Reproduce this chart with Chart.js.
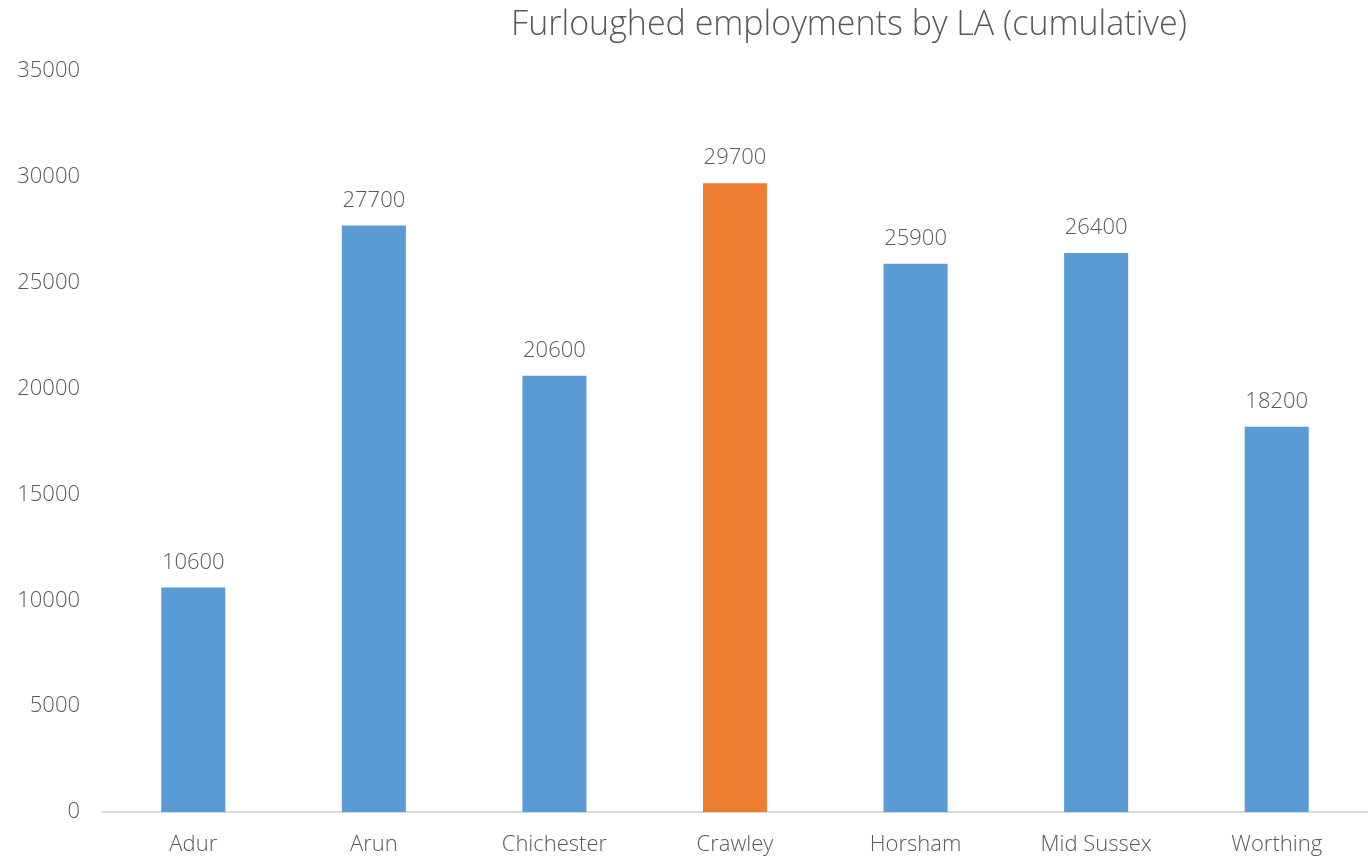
<!DOCTYPE html>
<html>
<head>
<meta charset="utf-8">
<script src="https://cdn.jsdelivr.net/npm/chart.js@4"></script>
<style>
html,body{margin:0;padding:0;background:#fff;}
#wrap{width:1368px;height:856px;position:relative;}
</style>
</head>
<body>
<div id="wrap"><canvas id="c" width="1368" height="856"></canvas></div>
<script>
const categories = ["Adur","Arun","Chichester","Crawley","Horsham","Mid Sussex","Worthing"];
const values = [10600, 27700, 20600, 29700, 25900, 26400, 18200];
const highlight = "Crawley";
const yTicks = [0,5000,10000,15000,20000,25000,30000,35000];
const titleText = "Furloughed employments by LA (cumulative)";

const FONT = "'Open Sans', 'DejaVu Sans', sans-serif";
const TEXT = "#595959";

const colors = categories.map(c => c === highlight ? "#ED7D31" : "#5B9BD5");

const titlePlugin = {
  id: 'customTitle',
  afterDraw(chart) {
    const ctx = chart.ctx;
    ctx.save();
    ctx.font = "300 34px " + FONT;
    ctx.fillStyle = TEXT;
    ctx.textAlign = 'center';
    ctx.textBaseline = 'middle';
    ctx.fillText(titleText, 849, 25);
    ctx.restore();
  }
};

const labelPlugin = {
  id: 'dataLabels',
  afterDatasetsDraw(chart) {
    const ctx = chart.ctx;
    const meta = chart.getDatasetMeta(0);
    ctx.save();
    ctx.font = "300 22px " + FONT;
    ctx.fillStyle = TEXT;
    ctx.textAlign = 'center';
    ctx.textBaseline = 'middle';
    meta.data.forEach((bar, i) => {
      ctx.fillText(String(values[i]), bar.x, bar.y - 25);
    });
    ctx.restore();
  }
};

new Chart(document.getElementById('c'), {
  type: 'bar',
  data: {
    labels: categories,
    datasets: [{
      data: values,
      backgroundColor: colors,
      borderWidth: 0,
      barPercentage: 0.3546,
      categoryPercentage: 1.0
    }]
  },
  options: {
    responsive: false,
    animation: false,
    layout: { padding: { top: 71, right: 1, left: 0, bottom: 0 } },
    plugins: {
      legend: { display: false },
      title: { display: false },
      tooltip: { enabled: false }
    },
    scales: {
      x: {
        grid: { display: false, drawTicks: false },
        border: { display: true, color: '#d9d9d9', width: 2 },
        ticks: { color: TEXT, font: { family: FONT, size: 22, weight: 300 }, padding: 20 },
        afterFit(scale) { scale.height = 44; }
      },
      y: {
        min: 0, max: 35000,
        afterBuildTicks(scale) { scale.ticks = yTicks.map(v => ({ value: v })); },
        grid: { display: false, drawTicks: false },
        border: { display: false },
        ticks: { color: TEXT, font: { family: FONT, size: 22, weight: 300 }, padding: 23,
                 callback: (v) => String(v) },
        afterFit(scale) { scale.width = 103; }
      }
    }
  },
  plugins: [titlePlugin, labelPlugin]
});
</script>
</body>
</html>
